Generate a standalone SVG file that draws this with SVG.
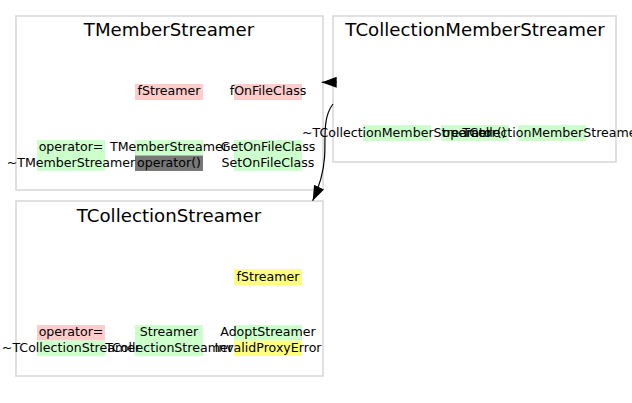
<svg xmlns="http://www.w3.org/2000/svg" width="632" height="403" viewBox="0 0 632 403">
<style>
.box{fill:#ffffff;stroke:#d9d9d9;stroke-width:1.6}
.title{font-family:"DejaVu Sans",Verdana,sans-serif;font-size:18.2px;fill:#000;text-anchor:middle}
.t{font-family:"DejaVu Sans",Verdana,sans-serif;font-size:12.6px;fill:#000;text-anchor:middle}
.pk{fill:#ffcccc}
.gr{fill:#ccffcc}
.ye{fill:#ffff80}
.dk{fill:#777777}
.edge{fill:none;stroke:#000;stroke-width:1.2}
</style>
<defs>
<marker id="arr" viewBox="0 0 15 11" refX="15" refY="5.5" markerWidth="15" markerHeight="11" markerUnits="userSpaceOnUse" orient="auto">
<path d="M0,0 L15,5.5 L0,11 z" fill="#000"/>
</marker>
</defs>
<rect width="632" height="403" fill="#ffffff"/>
<g id="TMemberStreamer">
<rect class="box" x="16" y="16" width="307" height="174"/>
<text class="title" x="169" y="36">TMemberStreamer</text>
<rect class="pk" x="135" y="84" width="68" height="16"/>
<rect class="pk" x="234" y="84" width="68" height="16"/>
<rect class="gr" x="37" y="140" width="68" height="31"/>
<rect class="gr" x="135" y="140" width="68" height="15.5"/>
<rect class="dk" x="135" y="155.5" width="68" height="15.5"/>
<rect class="gr" x="234" y="140" width="68" height="31"/>
<text class="t" x="169" y="95">fStreamer</text>
<text class="t" x="268" y="95">fOnFileClass</text>
<text class="t" x="71" y="151">operator=</text>
<text class="t" x="169" y="151">TMemberStreamer</text>
<text class="t" x="268" y="151">GetOnFileClass</text>
<text class="t" x="71" y="166.5">~TMemberStreamer</text>
<text class="t" x="169" y="166.5">operator()</text>
<text class="t" x="268" y="166.5">SetOnFileClass</text>
</g>
<g id="TCollectionStreamer">
<rect class="box" x="16" y="201" width="307" height="175"/>
<text class="title" x="169" y="222">TCollectionStreamer</text>
<rect class="ye" x="234" y="269" width="68" height="16"/>
<rect class="pk" x="37" y="325" width="68" height="15.5"/>
<rect class="gr" x="37" y="340.5" width="68" height="15.5"/>
<rect class="gr" x="135" y="325" width="68" height="31"/>
<rect class="gr" x="234" y="325" width="68" height="15.5"/>
<rect class="ye" x="234" y="340.5" width="68" height="15.5"/>
<text class="t" x="268" y="280.5">fStreamer</text>
<text class="t" x="71" y="336">operator=</text>
<text class="t" x="169" y="336">Streamer</text>
<text class="t" x="268" y="336">AdoptStreamer</text>
<text class="t" x="71" y="351.5">~TCollectionStreamer</text>
<text class="t" x="169" y="351.5">TCollectionStreamer</text>
<text class="t" x="268" y="351.5">InvalidProxyError</text>
</g>
<g id="TCollectionMemberStreamer">
<rect class="box" x="333" y="16" width="283" height="146"/>
<text class="title" x="475" y="36">TCollectionMemberStreamer</text>
<rect class="gr" x="363" y="125" width="68" height="16"/>
<rect class="gr" x="441" y="125" width="68" height="16"/>
<rect class="gr" x="518" y="125" width="68" height="16"/>
<text class="t" x="397" y="136.5">~TCollectionMemberStreamer</text>
<text class="t" x="474.5" y="136.5">operator()</text>
<text class="t" x="552" y="136.5">TCollectionMemberStreamer</text>
</g>
<g id="connectors">
<path class="edge" d="M336.7,82.3 L321.7,82.3" marker-end="url(#arr)"/>
<path class="edge" d="M333,104 C322,118 326,140 324.5,158 C323.5,172 320,185 312.7,200.7" marker-end="url(#arr)"/>
</g>
</svg>
